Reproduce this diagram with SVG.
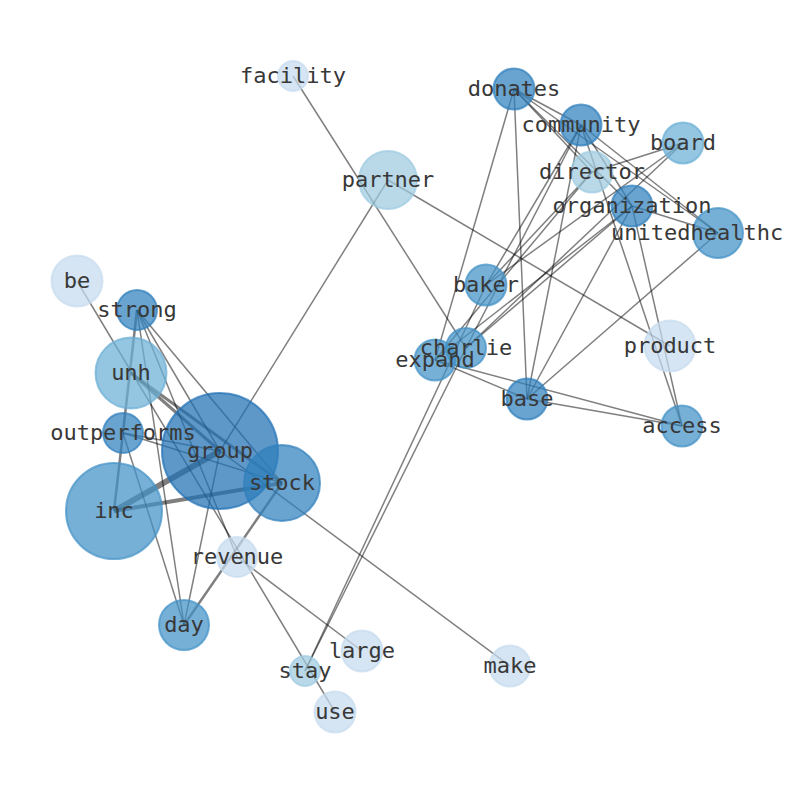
<svg xmlns="http://www.w3.org/2000/svg" width="794" height="790" viewBox="0 0 794 790">
<style>
.e{stroke:#000;stroke-opacity:0.5;stroke-width:1.5;fill:none;stroke-linecap:butt}
.n circle{stroke-width:2;fill-opacity:0.72;stroke-opacity:0.72}
.c1 circle{fill:#2070b4;stroke:#2070b4}
.c2 circle{fill:#2f7fbc;stroke:#2f7fbc}
.c3 circle{fill:#4292c6;stroke:#4292c6}
.c4 circle{fill:#6baed6;stroke:#6baed6}
.c5 circle{fill:#9ecae1;stroke:#9ecae1}
.c6 circle{fill:#c6dbef;stroke:#c6dbef}
text{font-family:"DejaVu Sans Mono","Liberation Mono",monospace;font-size:22px;fill:#383838;text-anchor:middle}
</style>
<rect width="794" height="790" fill="#fff"/>
<g id="edges">
<line class="e" x1="77" y1="281" x2="335" y2="712"/>
<line class="e" x1="137" y1="310" x2="114" y2="511" style="stroke-width:2.5"/>
<line class="e" x1="137" y1="310" x2="184" y2="625"/>
<line class="e" x1="137" y1="310" x2="220" y2="451"/>
<line class="e" x1="137" y1="310" x2="282" y2="483"/>
<line class="e" x1="137" y1="310" x2="237" y2="557"/>
<line class="e" x1="131" y1="373" x2="220" y2="451" style="stroke-width:3"/>
<line class="e" x1="131" y1="373" x2="282" y2="483" style="stroke-width:3"/>
<line class="e" x1="123" y1="433" x2="220" y2="451"/>
<line class="e" x1="123" y1="433" x2="282" y2="483"/>
<line class="e" x1="123" y1="433" x2="184" y2="625"/>
<line class="e" x1="114" y1="511" x2="220" y2="451" style="stroke-width:6"/>
<line class="e" x1="114" y1="511" x2="282" y2="483" style="stroke-width:4"/>
<line class="e" x1="220" y1="451" x2="184" y2="625"/>
<line class="e" x1="282" y1="483" x2="184" y2="625" style="stroke-width:2.5"/>
<line class="e" x1="220" y1="451" x2="510" y2="666"/>
<line class="e" x1="220" y1="451" x2="388" y2="180"/>
<line class="e" x1="237" y1="557" x2="362" y2="651"/>
<line class="e" x1="305" y1="671" x2="486" y2="285"/>
<line class="e" x1="305" y1="671" x2="466" y2="348"/>
<line class="e" x1="293" y1="76" x2="466" y2="348"/>
<line class="e" x1="388" y1="180" x2="670" y2="346"/>
<line class="e" x1="514" y1="89" x2="581" y2="125"/>
<line class="e" x1="514" y1="89" x2="592" y2="172"/>
<line class="e" x1="514" y1="89" x2="632" y2="206"/>
<line class="e" x1="514" y1="89" x2="718" y2="233"/>
<line class="e" x1="514" y1="89" x2="435" y2="360"/>
<line class="e" x1="514" y1="89" x2="527" y2="399"/>
<line class="e" x1="581" y1="125" x2="486" y2="285"/>
<line class="e" x1="581" y1="125" x2="466" y2="348"/>
<line class="e" x1="581" y1="125" x2="527" y2="399"/>
<line class="e" x1="581" y1="125" x2="632" y2="206"/>
<line class="e" x1="581" y1="125" x2="718" y2="233"/>
<line class="e" x1="581" y1="125" x2="682" y2="426"/>
<line class="e" x1="683" y1="143" x2="592" y2="172"/>
<line class="e" x1="683" y1="143" x2="486" y2="285"/>
<line class="e" x1="683" y1="143" x2="466" y2="348"/>
<line class="e" x1="592" y1="172" x2="486" y2="285"/>
<line class="e" x1="592" y1="172" x2="435" y2="360"/>
<line class="e" x1="632" y1="206" x2="435" y2="360"/>
<line class="e" x1="632" y1="206" x2="466" y2="348"/>
<line class="e" x1="632" y1="206" x2="718" y2="233"/>
<line class="e" x1="632" y1="206" x2="527" y2="399"/>
<line class="e" x1="632" y1="206" x2="682" y2="426"/>
<line class="e" x1="718" y1="233" x2="527" y2="399"/>
<line class="e" x1="435" y1="360" x2="527" y2="399"/>
<line class="e" x1="435" y1="360" x2="682" y2="426"/>
<line class="e" x1="527" y1="399" x2="682" y2="426"/>
</g>
<g id="nodes">
<g id="n-facility" class="n c6"><circle cx="293" cy="76" r="15"/></g>
<g id="n-partner" class="n c5"><circle cx="388" cy="180" r="29"/></g>
<g id="n-donates" class="n c2"><circle cx="514" cy="89" r="20.5"/></g>
<g id="n-community" class="n c2"><circle cx="581" cy="125" r="20.5"/></g>
<g id="n-board" class="n c4"><circle cx="683" cy="143" r="20.5"/></g>
<g id="n-director" class="n c5"><circle cx="592" cy="172" r="20.5"/></g>
<g id="n-organization" class="n c2"><circle cx="632" cy="206" r="20.5"/></g>
<g id="n-unitedhealthc" class="n c3"><circle cx="718" cy="233" r="25"/></g>
<g id="n-be" class="n c6"><circle cx="77" cy="281" r="25.5"/></g>
<g id="n-strong" class="n c2"><circle cx="137" cy="310" r="20"/></g>
<g id="n-baker" class="n c3"><circle cx="486" cy="285" r="20.5"/></g>
<g id="n-unh" class="n c4"><circle cx="131" cy="373" r="35.5"/></g>
<g id="n-expand" class="n c3"><circle cx="435" cy="360" r="20.5"/></g>
<g id="n-charlie" class="n c3"><circle cx="466" cy="348" r="20"/></g>
<g id="n-product" class="n c6"><circle cx="670" cy="346" r="25.5"/></g>
<g id="n-base" class="n c2"><circle cx="527" cy="399" r="20.5"/></g>
<g id="n-access" class="n c3"><circle cx="682" cy="426" r="20.5"/></g>
<g id="n-outperforms" class="n c2"><circle cx="123" cy="433" r="20"/></g>
<g id="n-group" class="n c1"><circle cx="220" cy="451" r="58"/></g>
<g id="n-stock" class="n c2"><circle cx="282" cy="483" r="38"/></g>
<g id="n-inc" class="n c3"><circle cx="114" cy="511" r="48"/></g>
<g id="n-revenue" class="n c6"><circle cx="237" cy="557" r="20"/></g>
<g id="n-day" class="n c3"><circle cx="184" cy="625" r="25"/></g>
<g id="n-large" class="n c6"><circle cx="362" cy="651" r="20.5"/></g>
<g id="n-stay" class="n c5"><circle cx="305" cy="671" r="15"/></g>
<g id="n-make" class="n c6"><circle cx="510" cy="666" r="20.5"/></g>
<g id="n-use" class="n c6"><circle cx="335" cy="712" r="20.5"/></g>
</g>
<g id="labels">
<text x="293" y="83">facility</text>
<text x="388" y="187">partner</text>
<text x="514" y="96">donates</text>
<text x="581" y="132">community</text>
<text x="683" y="150">board</text>
<text x="592" y="179">director</text>
<text x="632" y="213">organization</text>
<text x="611" y="240" style="text-anchor:start">unitedhealthc</text>
<text x="77" y="288">be</text>
<text x="137" y="317">strong</text>
<text x="486" y="292">baker</text>
<text x="131" y="380">unh</text>
<text x="435" y="367">expand</text>
<text x="466" y="355">charlie</text>
<text x="670" y="353">product</text>
<text x="527" y="406">base</text>
<text x="682" y="433">access</text>
<text x="123" y="440">outperforms</text>
<text x="220" y="458">group</text>
<text x="282" y="490">stock</text>
<text x="114" y="518">inc</text>
<text x="237" y="564">revenue</text>
<text x="184" y="632">day</text>
<text x="362" y="658">large</text>
<text x="305" y="678">stay</text>
<text x="510" y="673">make</text>
<text x="335" y="719">use</text>
</g>
</svg>
